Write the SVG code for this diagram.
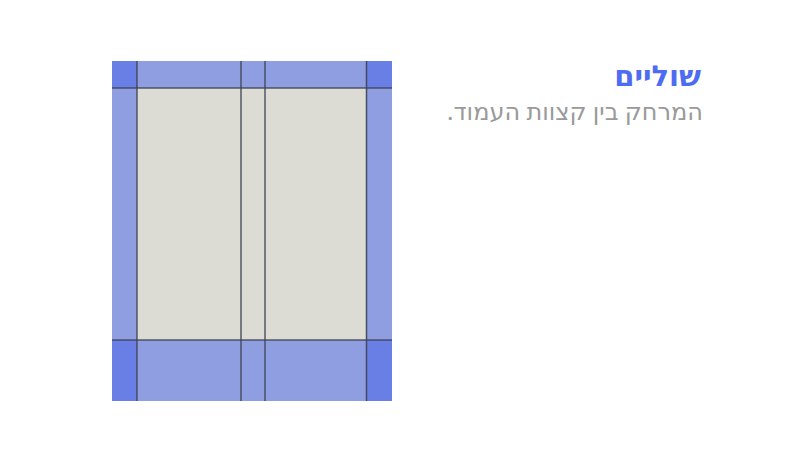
<svg xmlns="http://www.w3.org/2000/svg" width="785" height="473" viewBox="0 0 785 473">
<style>
.margin{fill:#8e9ee0}
.corner{fill:#6a7fe6}
.content{fill:#dcdcd4}
.ln{stroke:#3c4150;stroke-width:1.5;fill:none;stroke-opacity:0.85}
.title{font-family:"Noto Sans","DejaVu Sans",sans-serif;font-weight:bold;font-size:29px;fill:#4d6cf2}
.sub{font-family:"Noto Sans","DejaVu Sans",sans-serif;font-size:24px;fill:#9a9a9a}
</style>
<rect width="785" height="473" fill="#ffffff"/>
<g id="page">
<rect class="margin" x="112" y="61" width="280" height="340"/>
<rect class="content" x="137" y="88" width="229" height="252"/>
<rect class="corner" x="112" y="61" width="25" height="27"/>
<rect class="corner" x="366" y="61" width="26" height="27"/>
<rect class="corner" x="112" y="340" width="25" height="61"/>
<rect class="corner" x="366" y="340" width="26" height="61"/>
</g>
<g id="gridlines">
<line class="ln" x1="137" y1="61" x2="137" y2="401"/>
<line class="ln" x1="241" y1="61" x2="241" y2="401"/>
<line class="ln" x1="265" y1="61" x2="265" y2="401"/>
<line class="ln" x1="366.5" y1="61" x2="366.5" y2="401"/>
<line class="ln" x1="112" y1="88" x2="392" y2="88"/>
<line class="ln" x1="112" y1="340" x2="392" y2="340"/>
</g>
<g id="caption">
<text class="title" x="701" y="86" direction="rtl" text-anchor="start">שוליים</text>
<text class="sub" x="703" y="120" direction="rtl" text-anchor="start">המרחק בין קצוות העמוד.</text>
</g>
</svg>
